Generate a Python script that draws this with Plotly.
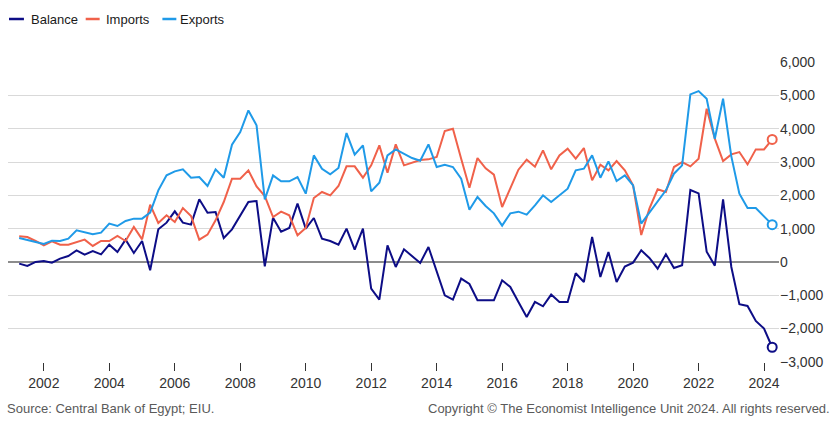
import pandas as pd
import plotly.graph_objects as go

# Quarterly dates, 2001 Q2 – 2024 Q2
dates = pd.date_range("2001-04-01", periods=93, freq="QS")

exports = [
    720, 650, 600, 540, 640, 630, 700, 950, 880, 830, 880, 1150, 1080, 1230, 1300, 1300, 1480,
    2150, 2600, 2720, 2780, 2530, 2550, 2280, 2780, 2530, 3520, 3900, 4550, 4100, 1880,
    2600, 2420, 2420, 2550, 2050, 3200, 2800, 2630, 2820, 3870, 3220, 3500, 2120, 2380, 3200, 3380,
    3250, 3120, 3040, 3530, 2850, 2920, 2850, 2500, 1570, 1950, 1680, 1460, 1090, 1460, 1510, 1420,
    1700, 2000,
    1800, 2000, 2200, 2750, 2800, 3200, 2530, 3020, 2430, 2600, 2300, 1150, 1480, 1850, 2150, 2650, 2900,
    5030, 5130, 4900, 3700, 4900, 3170, 2050, 1620, 1620, 1380, 1120,
]

imports = [
    770, 750, 630, 500, 620, 520, 520, 600, 670, 480, 630, 630, 780, 630, 1050, 680, 1720,
    1170, 1400, 1200, 1620, 1380, 670, 820, 1250, 1800, 2500, 2500, 2750, 2270, 1980,
    1350, 1510, 1400, 800, 1020, 1920, 2100, 2000, 2280, 2870, 2870, 2530, 2900, 3500, 2680, 3530,
    2900, 2980, 3060, 3080, 3150, 3930, 4000, 3100, 2230, 3120, 2810, 2620, 1650, 2210, 2770, 3070,
    2860, 3350,
    2780, 3200, 3400, 3100, 3420, 2450, 2920, 2750, 3030, 2750, 2300, 810, 1600, 2180, 2100, 2850, 3000,
    2870, 3100, 4600, 3700, 3030, 3230, 3300, 2930, 3380, 3380, 3680,
]

balance = [
    -50, -120, 0, 30, -20, 100, 180, 350, 220, 330, 230, 520, 300, 670, 270, 630, -250,
    980, 1180, 1520, 1180, 1120, 1880, 1480, 1500, 720, 980, 1380, 1800, 1830, -130,
    1330, 910, 1020, 1750, 1000, 1320, 700, 630, 520, 1000, 370, 1000, -800, -1130, 500, -150,
    380, 170, -30, 450, -300, -1000, -1130, -500, -660, -1150, -1150, -1150, -550, -750, -1200, -1650,
    -1200, -1330,
    -980, -1200, -1200, -340, -600, 750, -450, 300, -600, -140, -20, 350, 120, -200, 230, -180, -100,
    2160, 2060, 310, -110, 1880, -150, -1270, -1320, -1770, -2000, -2560,
]

series_names = ["Balance", "Imports", "Exports"]
series_values = [balance, imports, exports]
series_colors = ["#0d0d86", "#f0614a", "#1f9ae8"]

y_ticks = [-3000, -2000, -1000, 0, 1000, 2000, 3000, 4000, 5000, 6000]
x_ticks = [f"{y}-01-01" for y in range(2002, 2025, 2)]
x_tick_labels = [str(y) for y in range(2002, 2025, 2)]

source_text = "Source: Central Bank of Egypt; EIU."
copyright_text = "Copyright © The Economist Intelligence Unit 2024. All rights reserved."

FONT = "Liberation Sans, Arial, sans-serif"

fig = go.Figure()
for name, vals, col in zip(series_names, series_values, series_colors):
    fig.add_trace(go.Scatter(
        x=dates, y=vals, mode="lines", name=name,
        line=dict(color=col, width=2), showlegend=False,
    ))
for name, vals, col in zip(series_names, series_values, series_colors):
    fig.add_trace(go.Scatter(
        x=[dates[-1]], y=[vals[-1]], mode="markers", showlegend=False,
        marker=dict(symbol="circle", size=9, color="white", line=dict(color=col, width=2)),
        cliponaxis=False,
    ))

W, H = 831, 421
ML, MR, MT, MB = 8, 49, 62, 59
pw = W - ML - MR
ph = H - MT - MB

def px_x(px):
    return (px - ML) / pw

def px_y(py):
    return (H - MB - py) / ph

# custom legend
legend_pos = [(9, 24, 29), (86, 100, 104), (163, 177, 179)]
for (x0, x1, tx), name, col in zip(legend_pos, series_names, series_colors):
    fig.add_shape(type="line", xref="paper", yref="paper",
                  x0=px_x(x0), x1=px_x(x1), y0=px_y(19), y1=px_y(19),
                  line=dict(color=col, width=2.5))
    fig.add_annotation(xref="paper", yref="paper", x=px_x(tx), y=px_y(19),
                       text=name, showarrow=False, xanchor="left", yanchor="middle",
                       font=dict(family=FONT, size=13, color="#1a1a1a"))

fig.add_annotation(xref="paper", yref="paper", x=px_x(5), y=px_y(408),
                   text=source_text, showarrow=False, xanchor="left", yanchor="middle",
                   font=dict(family=FONT, size=13, color="#5a5a5a"))
fig.add_annotation(xref="paper", yref="paper", x=px_x(835), y=px_y(408),
                   text=copyright_text, showarrow=False, xanchor="right", yanchor="middle",
                   font=dict(family=FONT, size=13, color="#5a5a5a"))

fig.update_layout(
    width=W, height=H,
    margin=dict(l=ML, r=MR, t=MT, b=MB),
    paper_bgcolor="white", plot_bgcolor="white",
    font=dict(family=FONT, color="#333333"),
    xaxis=dict(
        type="date", range=["2000-11-27", "2024-06-16"],
        tickvals=x_ticks, ticktext=x_tick_labels,
        showgrid=False, zeroline=False, showline=False,
        ticks="outside", ticklen=8, tickcolor="#333333", tickwidth=1,
        tickfont=dict(family=FONT, size=14, color="#333333"),
    ),
    yaxis=dict(
        side="right", range=[-3003, 6003],
        tickvals=y_ticks, tickformat=",d",
        showgrid=True, gridcolor="#d9d9d9", gridwidth=1,
        zeroline=True, zerolinecolor="#8c8c8c", zerolinewidth=2,
        showline=False, ticks="",
        tickfont=dict(family=FONT, size=14, color="#333333"),
    ),
)

fig.write_html("out.html")
